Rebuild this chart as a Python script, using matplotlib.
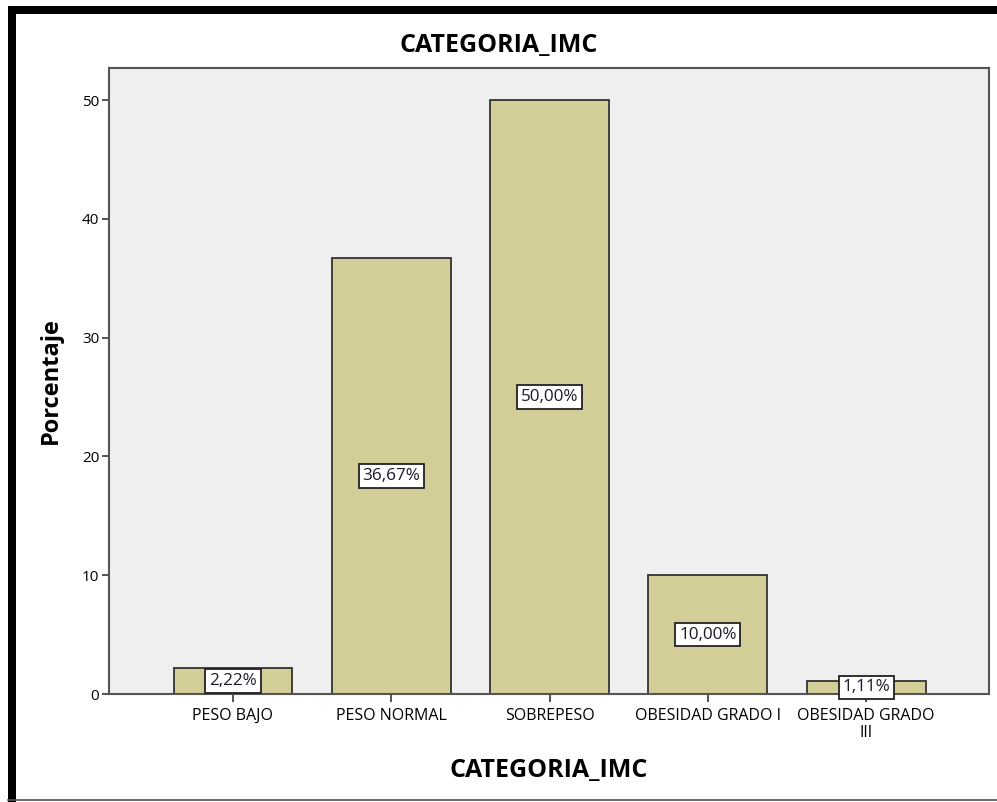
import matplotlib
matplotlib.use("Agg")
import matplotlib.pyplot as plt
from matplotlib.lines import Line2D
from matplotlib.patches import Rectangle

plt.rcParams['font.family'] = ['Open Sans', 'DejaVu Sans']

categories = ["PESO BAJO", "PESO NORMAL", "SOBREPESO", "OBESIDAD GRADO I", "OBESIDAD GRADO\nIII"]
values = [2.22, 36.67, 50.00, 10.00, 1.11]
labels = ["2,22%", "36,67%", "50,00%", "10,00%", "1,11%"]
yticks = [0, 10, 20, 30, 40, 50]

W, H = 997, 802
fig = plt.figure(figsize=(W/100, H/100), dpi=100)
fig.patch.set_facecolor("white")
ax = fig.add_axes([109/W, 1-694/H, 880/W, 626/H])
ax.set_facecolor("#EFEFEF")

x = list(range(len(categories)))
ax.bar(x, values, width=0.75, color="#D3CE97", edgecolor="#333333", linewidth=1.3, zorder=2)
for xi, v, lab in zip(x, values, labels):
    ax.text(xi, v/2, lab, ha="center", va="center", fontsize=12.3, color="#1a1a2a", zorder=3,
            bbox=dict(boxstyle="square,pad=0.22", facecolor="white", edgecolor="#222222", linewidth=1.3))

ax.set_xlim(-0.783, 4.776)
ax.set_ylim(0, 52.7)
ax.set_yticks(yticks)
ax.set_xticks(x)
ax.set_xticklabels(categories, fontsize=11.5, linespacing=1.1)
ax.tick_params(axis="y", labelsize=11, length=5, width=1.3, color="#444444", pad=2)
ax.tick_params(axis="x", length=6, width=1.3, color="#444444", pad=4)
for s in ax.spines.values():
    s.set_color("#555555")
    s.set_linewidth(1.5)

ax.set_ylabel("Porcentaje", fontsize=17, fontweight="bold", labelpad=14)
ax.set_xlabel("CATEGORIA_IMC", fontsize=18, fontweight="bold", labelpad=12)
fig.text(0.5, 1-45/H, "CATEGORIA_IMC", ha="center", va="center", fontsize=18, fontweight="bold")

# figure frame
fig.add_artist(Rectangle((8/W, 0), 8/W, 1-6/H, transform=fig.transFigure, facecolor="black", edgecolor="none"))
fig.add_artist(Rectangle((8/W, 1-14/H), 1, 8/H, transform=fig.transFigure, facecolor="black", edgecolor="none"))
fig.add_artist(Line2D([8/W, 1], [1-800/H, 1-800/H], transform=fig.transFigure, color="#555555", linewidth=1.2))

fig.savefig("out.png", dpi=100)
